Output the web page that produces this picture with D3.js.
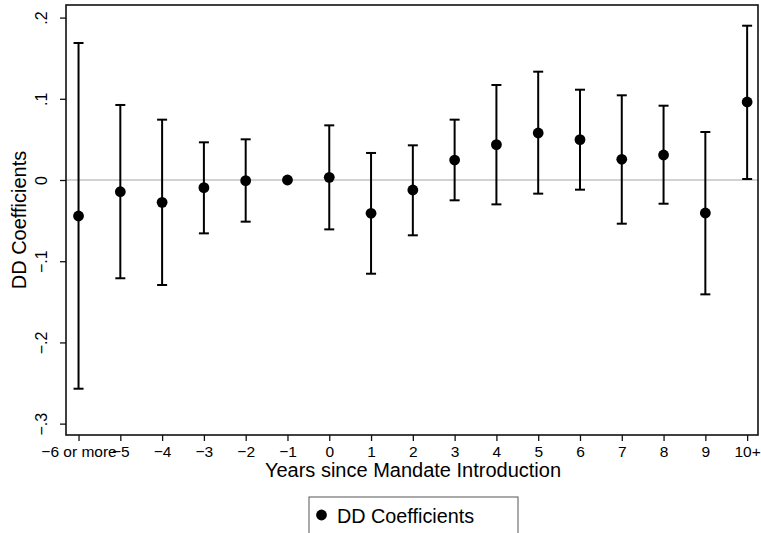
<!DOCTYPE html>
<html>
<head>
<meta charset="utf-8">
<script src="https://cdn.jsdelivr.net/npm/d3@7"></script>
<style>
  body { margin: 0; background: #fff; }
  svg { display: block; font-family: "Liberation Sans", Arial, sans-serif; }
</style>
</head>
<body>
<div id="content"></div>
<script>
// event-time categories and estimates
var periods = ["\u22126 or more", "\u22125", "\u22124", "\u22123", "\u22122", "\u22121", "0", "1", "2", "3", "4", "5", "6", "7", "8", "9", "10+"];
var coef  = [-0.0443, -0.0144, -0.0275, -0.0094, -0.0008, 0, 0.0033, -0.0410, -0.0123, 0.0246, 0.0435, 0.0579, 0.0497, 0.0255, 0.0308, -0.0406, 0.0961];
var upper = [0.1687, 0.0924, 0.0743, 0.0464, 0.0501, null, 0.0673, 0.0333, 0.0427, 0.0743, 0.1170, 0.1334, 0.1112, 0.1043, 0.0915, 0.0591, 0.1900];
var lower = [-0.2570, -0.1210, -0.1293, -0.0657, -0.0513, null, -0.0608, -0.1154, -0.0681, -0.0250, -0.0300, -0.0168, -0.0119, -0.0538, -0.0292, -0.1408, 0.0012];
var yTicks = [0.2, 0.1, 0, -0.1, -0.2, -0.3];
var yTickLabels = [".2", ".1", "0", "\u2212.1", "\u2212.2", "\u2212.3"];

var data = periods.map(function(p, i) {
  return {label: p, i: i, b: coef[i], hi: upper[i], lo: lower[i]};
});

var W = 761, H = 533;
var svg = d3.select("#content").append("svg")
    .attr("width", W)
    .attr("height", H);

// plot region (names avoid window.top clash)
var pLeft = 66, pRight = 758, pTop = 5, pBottom = 435;

var x = d3.scaleLinear().domain([-0.3, 16.26]).range([pLeft, pRight]);
var y = d3.scaleLinear().domain([-0.314, 0.2155]).range([pBottom, pTop]);

// zero reference line
svg.append("line")
    .attr("x1", pLeft).attr("x2", pRight)
    .attr("y1", y(0)).attr("y2", y(0))
    .attr("stroke", "#a6a6a6")
    .attr("stroke-width", 1.2);

// error bars
var ci = data.filter(function(d) { return d.hi !== null; });
var bars = svg.append("g").attr("stroke", "#000").attr("stroke-width", 2);
bars.selectAll("line.v").data(ci).enter().append("line")
    .attr("class", "v")
    .attr("x1", function(d) { return x(d.i); })
    .attr("x2", function(d) { return x(d.i); })
    .attr("y1", function(d) { return y(d.hi); })
    .attr("y2", function(d) { return y(d.lo); });
bars.selectAll("line.capHi").data(ci).enter().append("line")
    .attr("x1", function(d) { return x(d.i) - 5; })
    .attr("x2", function(d) { return x(d.i) + 5; })
    .attr("y1", function(d) { return y(d.hi); })
    .attr("y2", function(d) { return y(d.hi); });
bars.selectAll("line.capLo").data(ci).enter().append("line")
    .attr("x1", function(d) { return x(d.i) - 5; })
    .attr("x2", function(d) { return x(d.i) + 5; })
    .attr("y1", function(d) { return y(d.lo); })
    .attr("y2", function(d) { return y(d.lo); });

// point estimates
svg.append("g").selectAll("circle").data(data).enter().append("circle")
    .attr("cx", function(d) { return x(d.i); })
    .attr("cy", function(d) { return y(d.b); })
    .attr("r", 5.4)
    .attr("fill", "#000");

// frame
svg.append("rect")
    .attr("x", pLeft).attr("y", pTop)
    .attr("width", pRight - pLeft).attr("height", pBottom - pTop)
    .attr("fill", "none")
    .attr("stroke", "#111")
    .attr("stroke-width", 1.6);

// y axis
var yAxis = svg.append("g")
    .attr("transform", "translate(" + pLeft + ",0)")
    .call(d3.axisLeft(y).tickValues(yTicks).tickSize(6).tickPadding(4)
      .tickFormat(function(d, i) { return yTickLabels[i]; }));
yAxis.select(".domain").remove();
yAxis.selectAll(".tick line").attr("stroke", "#111").attr("stroke-width", 1.3);
yAxis.selectAll(".tick text")
    .attr("font-size", 16)
    .attr("fill", "#000")
    .attr("text-anchor", "middle")
    .attr("x", 0).attr("dy", 0)
    .attr("transform", "translate(-19,0) rotate(-90)");

// x axis
var xAxis = svg.append("g")
    .attr("transform", "translate(0," + pBottom + ")")
    .call(d3.axisBottom(x).tickValues(d3.range(periods.length)).tickSize(6).tickPadding(5)
      .tickFormat(function(d) { return periods[d]; }));
xAxis.select(".domain").remove();
xAxis.selectAll(".tick line").attr("stroke", "#111").attr("stroke-width", 1.3);
xAxis.selectAll(".tick text").attr("font-size", 15.5).attr("fill", "#000");

// axis titles
svg.append("text")
    .attr("x", (pLeft + pRight) / 2 + 1)
    .attr("y", 477)
    .attr("text-anchor", "middle")
    .attr("font-size", 20)
    .text("Years since Mandate Introduction");

svg.append("text")
    .attr("transform", "translate(26," + (pBottom + pTop) / 2 + ") rotate(-90)")
    .attr("text-anchor", "middle")
    .attr("font-size", 20)
    .text("DD Coefficients");

// legend
var lg = svg.append("g");
lg.append("rect")
    .attr("x", 309).attr("y", 497)
    .attr("width", 209).attr("height", 60)
    .attr("fill", "#fff")
    .attr("stroke", "#555")
    .attr("stroke-width", 1);
lg.append("circle").attr("cx", 321.5).attr("cy", 515).attr("r", 5.4).attr("fill", "#000");
lg.append("text")
    .attr("x", 337).attr("y", 522.5)
    .attr("font-size", 19.8)
    .text("DD Coefficients");
</script>
</body>
</html>
